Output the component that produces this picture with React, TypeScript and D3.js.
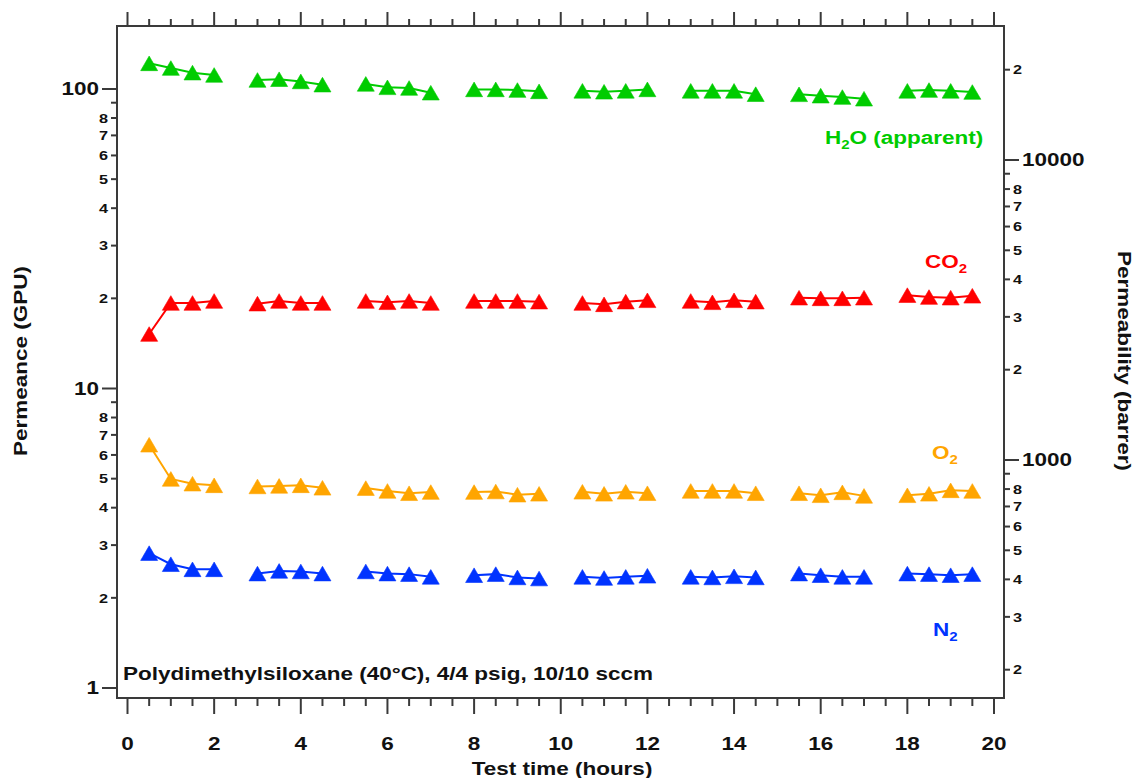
import React from "react";
import * as d3 from "d3";

const timeHours = [
  0.5, 1, 1.5, 2, 3, 3.5, 4, 4.5, 5.5, 6, 6.5, 7, 8, 8.5, 9, 9.5,
  10.5, 11, 11.5, 12, 13, 13.5, 14, 14.5, 15.5, 16, 16.5, 17, 18, 18.5, 19, 19.5,
];
const groupIndex = [0,0,0,0,1,1,1,1,2,2,2,2,3,3,3,3,4,4,4,4,5,5,5,5,6,6,6,6,7,7,7,7];

const h2o = [
  121.8, 117.5, 113.4, 111.4, 107.2, 107.8, 106.0, 103.4, 104.0, 101.3, 100.8, 97.2,
  99.7, 99.7, 99.2, 98.2, 98.6, 97.9, 98.6, 99.7, 98.6, 98.6, 98.6, 96.1,
  96.0, 95.0, 94.0, 92.8, 98.6, 99.2, 98.6, 97.7,
];
const co2 = [
  15.2, 19.3, 19.3, 19.6, 19.2, 19.6, 19.3, 19.3, 19.6, 19.4, 19.6, 19.3,
  19.6, 19.6, 19.6, 19.5, 19.3, 19.1, 19.5, 19.7, 19.6, 19.4, 19.7, 19.5,
  20.1, 20.0, 20.0, 20.1, 20.5, 20.2, 20.1, 20.4,
];
const o2 = [
  6.49, 4.99, 4.81, 4.75, 4.71, 4.73, 4.75, 4.66, 4.65, 4.55, 4.47, 4.51,
  4.51, 4.53, 4.42, 4.45, 4.52, 4.45, 4.52, 4.47, 4.55, 4.55, 4.55, 4.47,
  4.47, 4.40, 4.50, 4.38, 4.40, 4.45, 4.57, 4.55,
];
const n2 = [
  2.82, 2.59, 2.49, 2.49, 2.41, 2.46, 2.45, 2.41, 2.45, 2.41, 2.40, 2.35,
  2.38, 2.40, 2.34, 2.32, 2.35, 2.33, 2.35, 2.37, 2.35, 2.34, 2.36, 2.34,
  2.41, 2.38, 2.35, 2.35, 2.41, 2.40, 2.38, 2.40,
];

const seriesNames = ["H2O", "CO2", "O2", "N2"];
const seriesColors = ["#00cc00", "#ff0000", "#ffa500", "#0033ff"];
const seriesValues = [h2o, co2, o2, n2];

const xMajorTicks = [0, 2, 4, 6, 8, 10, 12, 14, 16, 18, 20];
const leftMajorTicks = [1, 10, 100];
const leftMinorTicks = [2, 3, 4, 5, 6, 7, 8, 9, 20, 30, 40, 50, 60, 70, 80, 90];
const rightMajorTicks = [1000, 10000];
const rightMinorTicks = [200, 300, 400, 500, 600, 700, 800, 900, 2000, 3000, 4000, 5000, 6000, 7000, 8000, 9000, 20000];

const FONT = "'Liberation Sans', Arial, sans-serif";
const SX = 1.25;

type TProps = {
  x: number; y: number; rot?: number; anchor?: "start" | "middle" | "end";
  size: number; fill?: string; dy?: string; children: React.ReactNode;
};
function T({ x, y, rot = 0, anchor = "start", size, fill = "#111", dy, children }: TProps) {
  return (
    <text
      transform={`translate(${x},${y}) rotate(${rot}) scale(${SX},1)`}
      textAnchor={anchor}
      fontSize={size}
      fontWeight="bold"
      fill={fill}
      dy={dy}
    >
      {children}
    </text>
  );
}

export default function App() {
  const W = 1139, H = 778;
  const frame = { left: 117, right: 1004, top: 26, bottom: 698 };
  const x = d3.scaleLinear().domain([0, 20]).range([127.5, 994]);
  const y = d3.scaleLog().domain([1, 100]).range([688, 89]);
  const yR = d3.scaleLog().domain([1000, 10000]).range([460, 160]);

  const xMinor = d3.range(0, 20.001, 0.5).filter((v) => Math.abs(v % 2) > 1e-6);

  const tri = (cx: number, cy: number) => {
    const w = 8.5, h = 7.3;
    return `M${cx},${cy - h}L${cx + w},${cy + h}L${cx - w},${cy + h}Z`;
  };

  const line = d3.line<[number, number]>().x((d) => x(d[0])).y((d) => y(d[1]));
  const labelFor = (v: number) => String(v)[0];
  const axisColor = "#3a3a3a";

  return (
    <svg width={W} height={H} style={{ position: "absolute", left: 0, top: 0, background: "#fff" }} fontFamily={FONT}>
      <rect x={0} y={0} width={W} height={H} fill="#fff" />
      {seriesValues.map((vals, si) => {
        const groups = d3.groups(vals.map((v, i) => [timeHours[i], v, groupIndex[i]] as [number, number, number]), (d) => d[2]);
        return (
          <g key={seriesNames[si]}>
            {groups.map(([g, pts]) => (
              <path key={g} d={line(pts.map((p) => [p[0], p[1]] as [number, number])) || ""} fill="none" stroke={seriesColors[si]} strokeWidth={2} />
            ))}
            {vals.map((v, i) => (
              <path key={i} d={tri(x(timeHours[i]), y(v))} fill={seriesColors[si]} stroke={seriesColors[si]} strokeOpacity={0.6} strokeWidth={1} />
            ))}
          </g>
        );
      })}

      <rect x={frame.left} y={frame.top} width={frame.right - frame.left} height={frame.bottom - frame.top} fill="none" stroke={axisColor} strokeWidth={2} />

      {xMajorTicks.map((t) => (
        <g key={"xm" + t}>
          <line x1={x(t)} x2={x(t)} y1={frame.bottom} y2={frame.bottom + 16} stroke={axisColor} strokeWidth={2} />
          <line x1={x(t)} x2={x(t)} y1={frame.top} y2={frame.top - 14} stroke={axisColor} strokeWidth={2} />
          <T x={x(t)} y={750} anchor="middle" size={18}>{t}</T>
        </g>
      ))}
      {xMinor.map((t) => (
        <g key={"xn" + t}>
          <line x1={x(t)} x2={x(t)} y1={frame.bottom} y2={frame.bottom + 8} stroke={axisColor} strokeWidth={2} />
          <line x1={x(t)} x2={x(t)} y1={frame.top} y2={frame.top - 7} stroke={axisColor} strokeWidth={2} />
        </g>
      ))}

      {leftMajorTicks.map((t) => (
        <g key={"lm" + t}>
          <line x1={frame.left} x2={frame.left - 15} y1={y(t)} y2={y(t)} stroke={axisColor} strokeWidth={2} />
          <T x={99} y={y(t)} dy="0.36em" anchor="end" size={18}>{t}</T>
        </g>
      ))}
      {leftMinorTicks.map((t) => (
        <g key={"ln" + t}>
          <line x1={frame.left} x2={frame.left - 6} y1={y(t)} y2={y(t)} stroke={axisColor} strokeWidth={2} />
          {labelFor(t) !== "9" && (
            <T x={108} y={y(t)} dy="0.36em" anchor="end" size={13}>{labelFor(t)}</T>
          )}
        </g>
      ))}

      {rightMajorTicks.map((t) => (
        <g key={"rm" + t}>
          <line x1={frame.right} x2={frame.right + 15} y1={yR(t)} y2={yR(t)} stroke={axisColor} strokeWidth={2} />
          <T x={1022} y={yR(t)} dy="0.36em" size={18}>{t}</T>
        </g>
      ))}
      {rightMinorTicks.map((t) => (
        <g key={"rn" + t}>
          <line x1={frame.right} x2={frame.right + 6} y1={yR(t)} y2={yR(t)} stroke={axisColor} strokeWidth={2} />
          {labelFor(t) !== "9" && (
            <T x={1013} y={yR(t)} dy="0.36em" size={13}>{labelFor(t)}</T>
          )}
        </g>
      ))}

      <T x={27} y={361} rot={-90} anchor="middle" size={18}>Permeance (GPU)</T>
      <T x={1118} y={361} rot={90} anchor="middle" size={18}>Permeability (barrer)</T>
      <T x={562} y={775} anchor="middle" size={18}>Test time (hours)</T>

      <T x={123} y={680} size={18}>Polydimethylsiloxane (40°C), 4/4 psig, 10/10 sccm</T>

      <T x={825} y={144} size={18} fill={seriesColors[0]}>
        H<tspan fontSize={12} dy={5}>2</tspan><tspan dy={-5}>O (apparent)</tspan>
      </T>
      <T x={925} y={268} size={18} fill={seriesColors[1]}>
        CO<tspan fontSize={12} dy={5}>2</tspan>
      </T>
      <T x={932} y={459} size={18} fill={seriesColors[2]}>
        O<tspan fontSize={12} dy={5}>2</tspan>
      </T>
      <T x={933} y={636} size={18} fill={seriesColors[3]}>
        N<tspan fontSize={12} dy={5}>2</tspan>
      </T>
    </svg>
  );
}
